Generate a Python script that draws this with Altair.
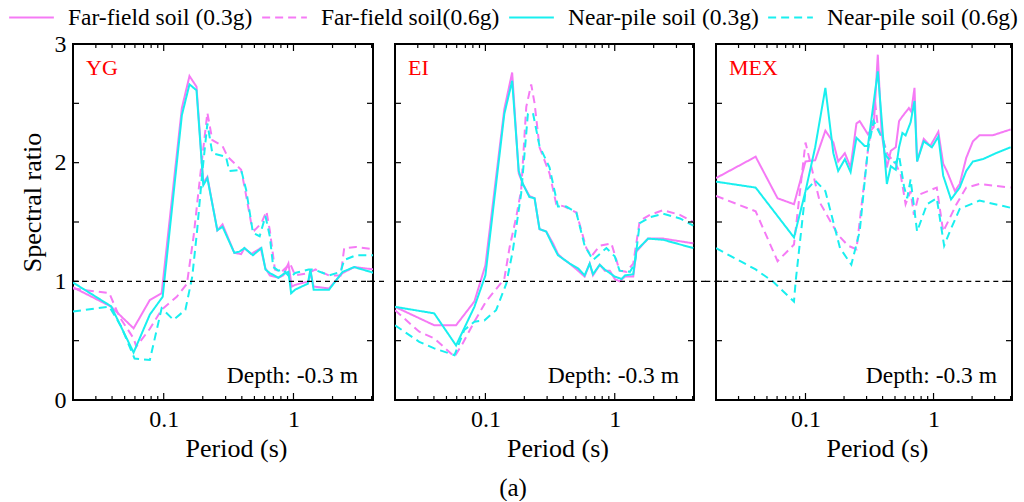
import altair as alt
import pandas as pd

FONT = "Liberation Serif"

SERIES = ["Far-field soil (0.3g)", "Far-field soil(0.6g)",
          "Near-pile soil (0.3g)", "Near-pile soil (0.6g)"]
COLORS = ["#F57AF5", "#F57AF5", "#19EFEF", "#19EFEF"]
DASHES = [[1, 0], [8, 5], [1, 0], [8, 5]]

PANELS = ["YG", "EI", "MEX"]
DEPTH_LABEL = "Depth: -0.3 m"

# ---------------- YG ----------------
yg_ff03_T = [0.02, 0.0393, 0.0586, 0.0782, 0.0964, 0.138, 0.158, 0.179, 0.202, 0.217,
             0.259, 0.284, 0.350, 0.395, 0.419, 0.472, 0.559, 0.608, 0.657, 0.764,
             0.835, 0.914, 0.970, 1.03, 1.31, 1.35, 1.43, 1.88, 2.39, 2.94, 4.2]
yg_ff03_v = [0.95, 0.787, 0.604, 0.843, 0.90, 2.46, 2.73, 2.64, 1.83, 1.88,
             1.43, 1.48, 1.24, 1.23, 1.28, 1.23, 1.28, 1.11, 1.05, 1.03,
             1.05, 1.15, 0.956, 0.97, 1.0, 1.08, 0.956, 0.94, 1.07, 1.12, 1.10]

yg_ff06_T = [0.02, 0.0381, 0.0456, 0.0586, 0.0615, 0.0782, 0.0964, 0.126, 0.151, 0.170,
             0.192, 0.217, 0.237, 0.284, 0.311, 0.395, 0.419, 0.472, 0.501, 0.566,
             0.619, 0.657, 0.719, 0.811, 0.942, 1.03, 1.31, 1.48, 1.88, 2.31,
             2.46, 3.03, 4.2]
yg_ff06_v = [0.94, 0.90, 0.70, 0.52, 0.45, 0.60, 0.76, 0.87, 0.98, 1.38,
             1.91, 2.42, 2.19, 2.14, 2.05, 1.94, 1.80, 1.49, 1.43, 1.49,
             1.59, 1.43, 1.10, 1.08, 1.15, 1.05, 1.07, 1.10, 1.05, 1.05,
             1.28, 1.29, 1.27]

yg_np03_T = [0.02, 0.0393, 0.0586, 0.0782, 0.0982, 0.138, 0.158, 0.179, 0.202, 0.217,
             0.259, 0.284, 0.350, 0.383, 0.419, 0.487, 0.566, 0.608, 0.657, 0.764,
             0.835, 0.914, 0.959, 1.03, 1.29, 1.35, 1.43, 1.88, 2.39, 2.94, 4.2]
yg_np03_v = [0.99, 0.79, 0.40, 0.72, 0.87, 2.40, 2.66, 2.61, 1.81, 1.87,
             1.43, 1.46, 1.24, 1.25, 1.28, 1.22, 1.28, 1.10, 1.07, 1.03,
             1.06, 1.08, 0.90, 0.93, 0.98, 1.10, 0.93, 0.93, 1.08, 1.12, 1.07]

yg_np06_T = [0.02, 0.0381, 0.0470, 0.0596, 0.0782, 0.0964, 0.119, 0.147, 0.166, 0.181,
             0.198, 0.217, 0.237, 0.302, 0.320, 0.395, 0.432, 0.487, 0.549, 0.608,
             0.657, 0.698, 0.764, 0.835, 0.942, 1.03, 1.31, 1.43, 1.88, 2.31,
             2.46, 3.03, 4.2]
yg_np06_v = [0.745, 0.787, 0.62, 0.35, 0.337, 0.773, 0.675, 0.76, 1.04, 1.43,
             1.91, 2.33, 2.08, 2.05, 1.93, 1.94, 1.77, 1.41, 1.38, 1.55,
             1.38, 1.12, 1.09, 1.10, 1.03, 1.07, 1.10, 1.10, 1.05, 1.08,
             1.18, 1.22, 1.22]

# ---------------- EI ----------------
ei_ff03_T = [0.02, 0.0402, 0.0593, 0.0822, 0.1, 0.140, 0.161, 0.181, 0.195, 0.219,
             0.240, 0.262, 0.295, 0.333, 0.364, 0.398, 0.448, 0.520, 0.585, 0.640,
             0.679, 0.766, 0.837, 0.915, 1.0, 1.09, 1.20, 1.39, 1.47, 1.81,
             2.37, 4.05]
ei_ff03_v = [0.785, 0.63, 0.63, 0.83, 1.135, 2.45, 2.76, 1.91, 1.82, 1.72,
             1.70, 1.44, 1.42, 1.32, 1.23, 1.19, 1.15, 1.09, 1.04, 1.15,
             1.05, 1.14, 1.09, 1.09, 1.02, 1.0, 1.04, 1.04, 1.25, 1.36,
             1.36, 1.32]

ei_ff06_T = [0.02, 0.0308, 0.0402, 0.0577, 0.0667, 0.0822, 0.101, 0.140, 0.154, 0.173,
             0.189, 0.207, 0.226, 0.240, 0.262, 0.313, 0.353, 0.410, 0.505, 0.603,
             0.659, 0.766, 0.942, 1.09, 1.23, 1.39, 1.56, 1.87, 2.37, 3.19, 4.05]
ei_ff06_v = [0.757, 0.575, 0.52, 0.364, 0.477, 0.66, 0.83, 1.02, 1.29, 1.54,
             1.77, 2.47, 2.66, 2.50, 2.13, 1.91, 1.65, 1.63, 1.58, 1.28,
             1.21, 1.30, 1.32, 1.09, 1.08, 1.15, 1.51, 1.56, 1.60, 1.56, 1.50]

ei_np03_T = [0.02, 0.0402, 0.0593, 0.0822, 0.1, 0.140, 0.161, 0.181, 0.195, 0.219,
             0.240, 0.262, 0.295, 0.333, 0.364, 0.398, 0.448, 0.520, 0.585, 0.640,
             0.679, 0.766, 0.837, 1.0, 1.13, 1.20, 1.39, 1.47, 1.81, 2.37, 4.05]
ei_np03_v = [0.785, 0.73, 0.46, 0.785, 1.05, 2.41, 2.69, 1.93, 1.82, 1.71,
             1.70, 1.44, 1.42, 1.30, 1.22, 1.19, 1.15, 1.11, 1.05, 1.15,
             1.06, 1.14, 1.10, 1.04, 1.02, 1.05, 1.06, 1.26, 1.36, 1.35, 1.28]

ei_np06_T = [0.02, 0.0308, 0.0402, 0.0577, 0.0687, 0.0822, 0.0981, 0.121, 0.145, 0.163,
             0.189, 0.213, 0.233, 0.262, 0.313, 0.364, 0.422, 0.505, 0.585, 0.679,
             0.862, 1.0, 1.09, 1.31, 1.43, 1.56, 1.87, 2.37, 3.19, 4.05]
ei_np06_v = [0.63, 0.49, 0.435, 0.378, 0.59, 0.66, 0.67, 0.757, 0.98, 1.26,
             1.74, 2.41, 2.42, 2.14, 1.96, 1.63, 1.63, 1.58, 1.30, 1.18,
             1.28, 1.21, 1.09, 1.08, 1.15, 1.49, 1.54, 1.57, 1.53, 1.47]

# ---------------- MEX ----------------
mex_ff03_T = [0.02, 0.0408, 0.0605, 0.0813, 0.1, 0.119, 0.143, 0.165, 0.180, 0.203,
              0.225, 0.250, 0.265, 0.307, 0.341, 0.367, 0.393, 0.432, 0.464, 0.507,
              0.538, 0.571, 0.642, 0.669, 0.710, 0.744, 0.838, 0.943, 1.09, 1.19,
              1.27, 1.47, 1.60, 1.80, 2.03, 2.28, 2.89, 4.0]
mex_ff03_v = [1.87, 2.05, 1.70, 1.65, 2.01, 2.02, 2.27, 2.17, 2.01, 2.08,
              1.96, 2.33, 2.35, 2.24, 2.30, 2.91, 2.25, 1.96, 2.10, 2.13,
              2.35, 2.39, 2.46, 2.43, 2.63, 2.01, 2.20, 2.14, 2.26, 1.99,
              1.93, 1.76, 1.82, 2.04, 2.18, 2.23, 2.23, 2.28]

mex_ff06_T = [0.02, 0.0408, 0.0605, 0.0813, 0.1, 0.130, 0.180, 0.215, 0.250, 0.307,
              0.336, 0.350, 0.367, 0.407, 0.438, 0.507, 0.554, 0.605, 0.662, 0.702,
              0.767, 1.06, 1.19, 1.51, 1.80, 2.28, 4.0]
mex_ff06_v = [1.72, 1.59, 1.17, 1.31, 2.17, 1.66, 1.39, 1.30, 1.27, 2.10,
              2.38, 2.51, 2.30, 2.18, 2.07, 1.99, 1.90, 1.65, 1.76, 1.56,
              1.73, 1.79, 1.42, 1.65, 1.79, 1.82, 1.79]

mex_np03_T = [0.02, 0.0408, 0.0813, 0.1, 0.119, 0.143, 0.165, 0.180, 0.203, 0.225,
              0.250, 0.290, 0.307, 0.367, 0.432, 0.464, 0.507, 0.538, 0.571, 0.605,
              0.662, 0.710, 0.744, 0.838, 0.971, 1.09, 1.19, 1.37, 1.60, 1.80,
              2.03, 2.43, 3.07, 4.0]
mex_np03_v = [1.84, 1.79, 1.37, 1.76, 2.13, 2.63, 2.08, 1.93, 2.03, 1.92,
              2.21, 2.14, 2.14, 2.77, 1.82, 1.97, 1.94, 2.13, 2.25, 2.23,
              2.34, 2.52, 2.01, 2.18, 2.13, 2.22, 1.89, 1.69, 1.79, 1.93,
              2.01, 2.03, 2.08, 2.13]

mex_np06_T = [0.02, 0.0408, 0.0554, 0.0813, 0.0838, 0.1, 0.119, 0.143, 0.186, 0.228,
              0.265, 0.307, 0.341, 0.367, 0.407, 0.425, 0.464, 0.507, 0.538, 0.588,
              0.623, 0.662, 0.744, 0.889, 1.06, 1.21, 1.34, 1.60, 2.28, 4.0]
mex_np06_v = [1.28, 1.10, 1.0, 0.83, 1.0, 1.76, 1.85, 1.76, 1.28, 1.14,
              1.42, 2.11, 2.35, 2.28, 2.18, 2.06, 2.01, 2.00, 2.06, 1.80,
              1.70, 1.86, 1.42, 1.65, 1.70, 1.30, 1.42, 1.61, 1.68, 1.62]

CURVES = {
    "YG": [(yg_ff03_T, yg_ff03_v), (yg_ff06_T, yg_ff06_v), (yg_np03_T, yg_np03_v), (yg_np06_T, yg_np06_v)],
    "EI": [(ei_ff03_T, ei_ff03_v), (ei_ff06_T, ei_ff06_v), (ei_np03_T, ei_np03_v), (ei_np06_T, ei_np06_v)],
    "MEX": [(mex_ff03_T, mex_ff03_v), (mex_ff06_T, mex_ff06_v), (mex_np03_T, mex_np03_v), (mex_np06_T, mex_np06_v)],
}

# axis / tick values
X_DOMAIN = [0.02, 4.1]
Y_DOMAIN = [0, 3]
X_LABELS = [0.1, 1]
X_MINOR = [0.03, 0.04, 0.05, 0.06, 0.07, 0.08, 0.09,
           0.2, 0.3, 0.4, 0.5, 0.6, 0.7, 0.8, 0.9, 2, 3, 4]
Y_LABELS = [0, 1, 2, 3]
Y_TICKS = [0, 0.5, 1, 1.5, 2, 2.5, 3]
REF_LEVEL = 1
REF_SPAN = [(0.02, 5.2), (0.02, 5.2), (0.0165, 4.1)]

WIDTHS = [300, 299, 296]
H = 356


def panel(i, name):
    W = WIDTHS[i]
    rows = []
    for s, (ts, vs) in zip(SERIES, CURVES[name]):
        for t, v in zip(ts, vs):
            rows.append({"series": s, "T": t, "v": v})
    df = pd.DataFrame(rows)

    xs = alt.Scale(type="log", domain=X_DOMAIN, nice=False)
    ys = alt.Scale(domain=Y_DOMAIN, nice=False, zero=False)

    xaxis = alt.Axis(values=X_LABELS, format="~g", labelPadding=7,
                     title="Period (s)", titlePadding=4, titleX=W / 2 + 13,
                     labelFlush=False)
    if i == 0:
        yaxis = alt.Axis(values=Y_LABELS, format="d", labelPadding=7,
                         title="Spectral ratio", titlePadding=9, titleY=158)
    else:
        yaxis = None

    leg = alt.Legend(orient="none", legendX=-65, legendY=-50, direction="horizontal",
                     columns=4, title=None, symbolType="stroke", symbolSize=2000,
                     symbolStrokeWidth=2, labelFont=FONT, labelFontSize=23.5,
                     labelColor="black", labelLimit=400, labelOffset=13,
                     columnPadding=5, padding=0)

    lines = alt.Chart(df).mark_line(strokeWidth=2, clip=True).encode(
        x=alt.X("T:Q", scale=xs, axis=xaxis),
        y=alt.Y("v:Q", scale=ys, axis=yaxis),
        color=alt.Color("series:N", scale=alt.Scale(domain=SERIES, range=COLORS),
                        sort=SERIES, legend=leg),
        strokeDash=alt.StrokeDash("series:N", scale=alt.Scale(domain=SERIES, range=DASHES),
                                  sort=SERIES, legend=leg),
        order=alt.Order("T:Q"),
    )

    ref = alt.Chart(pd.DataFrame({"T": [REF_SPAN[i][0]], "T2": [REF_SPAN[i][1]],
                                  "v": [REF_LEVEL]})).mark_rule(
        color="black", strokeWidth=1.3, strokeDash=[5, 4], clip=False).encode(
        x=alt.X("T:Q", scale=xs), x2="T2:Q", y=alt.Y("v:Q", scale=ys))

    maj = pd.DataFrame({"T": X_LABELS})
    mnr = pd.DataFrame({"T": X_MINOR})
    yt = pd.DataFrame({"v": Y_TICKS})
    tick = dict(color="black", strokeWidth=1.2)
    tb_maj = alt.Chart(maj).mark_rule(**tick).encode(
        x=alt.X("T:Q", scale=xs), y=alt.value(H), y2=alt.value(H - 7))
    tt_maj = alt.Chart(maj).mark_rule(**tick).encode(
        x=alt.X("T:Q", scale=xs), y=alt.value(0), y2=alt.value(7))
    tb_min = alt.Chart(mnr).mark_rule(**tick).encode(
        x=alt.X("T:Q", scale=xs), y=alt.value(H), y2=alt.value(H - 4))
    tt_min = alt.Chart(mnr).mark_rule(**tick).encode(
        x=alt.X("T:Q", scale=xs), y=alt.value(0), y2=alt.value(4))
    tl = alt.Chart(yt).mark_rule(**tick).encode(
        y=alt.Y("v:Q", scale=ys), x=alt.value(0), x2=alt.value(6))
    tr = alt.Chart(yt).mark_rule(**tick).encode(
        y=alt.Y("v:Q", scale=ys), x=alt.value(W), x2=alt.value(W - 6))

    name_txt = alt.Chart(pd.DataFrame({"lab": [name]})).mark_text(
        align="left", baseline="alphabetic", font=FONT, fontSize=22, color="#FF0000").encode(
        x=alt.value(13), y=alt.value(31), text="lab:N")
    depth_txt = alt.Chart(pd.DataFrame({"lab": [DEPTH_LABEL]})).mark_text(
        align="right", baseline="alphabetic", font=FONT, fontSize=23.5, color="black").encode(
        x=alt.value(W - 15), y=alt.value(H - 17), text="lab:N")

    return alt.layer(lines, ref, tb_maj, tt_maj, tb_min, tt_min, tl, tr,
                     name_txt, depth_txt).properties(width=W, height=H)


charts = [panel(i, n) for i, n in enumerate(PANELS)]

chart = alt.hconcat(*charts, spacing=22, bounds="flush").resolve_scale(
    x="independent", y="independent"
).properties(
    padding={"left": 8, "top": -6, "right": 0, "bottom": 0},
    background="white",
    title=alt.TitleParams("(a)", orient="bottom", anchor="middle", font=FONT,
                          fontSize=25, fontWeight="normal", color="black", offset=14),
).configure_view(
    stroke="black", strokeWidth=2
).configure_axis(
    grid=False, domain=False, ticks=False,
    labelFont=FONT, labelFontSize=24, labelColor="black",
    titleFont=FONT, titleFontSize=26, titleFontWeight="normal", titleColor="black",
)

chart.save("out.html", embed_options={"renderer": "svg", "actions": False})
